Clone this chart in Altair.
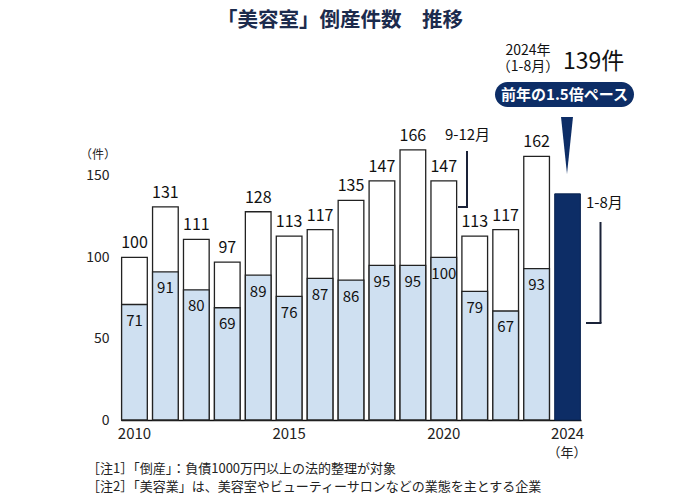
import altair as alt
import pandas as pd

# ---- data ----
years = [2010, 2011, 2012, 2013, 2014, 2015, 2016, 2017, 2018, 2019, 2020, 2021, 2022, 2023, 2024]
totals = [100, 131, 111, 97, 128, 113, 117, 135, 147, 166, 147, 113, 117, 162]   # 2010-2023 full year
jan_aug = [71, 91, 80, 69, 89, 76, 87, 86, 95, 95, 100, 79, 67, 93]             # 2010-2023 Jan-Aug
value_2024 = 139                                                                 # 2024 Jan-Aug
y_ticks = [0, 50, 100, 150]
x_ticks = [2010, 2015, 2020, 2024]

FONT = "Noto Sans CJK JP"
NAVY = "#0d2d66"
LIGHT = "#cfe0f1"
EDGE = "#222222"

# plot-area origin on the page (page margin 8 + padding)
OX, OY = 121, 18
H = 402
df = pd.DataFrame({"year": years[:-1], "total": totals, "lower": jan_aug})
df24 = pd.DataFrame({"year": [years[-1]], "value": [value_2024]})
one = pd.DataFrame({"k": [0]})

xs = alt.Scale(domain=years, paddingInner=0.17, paddingOuter=0.02)
ys = alt.Scale(domain=[0, H / 1.627], nice=False)

xenc = alt.X("year:O", scale=xs, title=None,
             axis=alt.Axis(values=x_ticks, labelAngle=0, ticks=False, domainColor="#111",
                           domainWidth=1.6, labelPadding=6, labelFontSize=15,
                           labelColor="#222", labelFont=FONT))
yaxis = alt.Axis(values=y_ticks, grid=False, ticks=False, domain=False,
                 labelPadding=12, labelFontSize=14, labelColor="#222", labelFont=FONT)

upper = alt.Chart(df).mark_bar(fill="white", stroke=EDGE, strokeWidth=1.3).encode(
    x=xenc, y=alt.Y("total:Q", scale=ys, title=None, axis=yaxis),
)
lower = alt.Chart(df).mark_bar(fill=LIGHT, stroke=EDGE, strokeWidth=1.3).encode(
    x=xenc, y=alt.Y("lower:Q", scale=ys, title=None, axis=yaxis)
)
bar24 = alt.Chart(df24).mark_bar(fill=NAVY, stroke="#0a2450", strokeWidth=1).encode(
    x=xenc, y=alt.Y("value:Q", scale=ys, title=None, axis=yaxis)
)
tot_lbl = alt.Chart(df).mark_text(baseline="alphabetic", dy=-9, fontSize=16, color="#111", font=FONT).encode(
    x=alt.X("year:O", scale=xs), y=alt.Y("total:Q", scale=ys), text="total:Q"
)
low_lbl = alt.Chart(df).mark_text(baseline="alphabetic", dy=21.5, fontSize=15, color="#111", font=FONT).encode(
    x=alt.X("year:O", scale=xs), y=alt.Y("lower:Q", scale=ys), text="lower:Q"
)


def txt(s, px, py, size=15, color="#111", align="center", weight="normal", **kw):
    return alt.Chart(one).mark_text(text=s, fontSize=size, color=color, align=align,
                                    baseline="middle", fontWeight=weight, font=FONT, **kw).encode(
        x=alt.value(px - OX), y=alt.value(py - OY))


def rule(px, py, px2=None, py2=None):
    enc = {"x": alt.value(px - OX), "y": alt.value(py - OY)}
    if px2 is not None:
        enc["x2"] = alt.value(px2 - OX)
    if py2 is not None:
        enc["y2"] = alt.value(py2 - OY)
    return alt.Chart(one).mark_rule(color="#1a2238", strokeWidth=2).encode(**enc)


title = txt("「美容室」倒産件数　推移", 340, 20.5, size=20.5, color="#1c2b4d", weight="bold")
unit = txt("（件）", 98, 155, size=12, color="#222")
nen = txt("（年）", 567, 453, size=13, color="#222")
note1 = txt("［注1］「倒産」：負債1000万円以上の法的整理が対象", 87, 469, size=13, color="#222", align="left")
note2 = txt("［注2］「美容業」は、美容室やビューティーサロンなどの業態を主とする企業", 87, 487, size=13, color="#222", align="left")

lbl_2024 = txt(["2024年", "（1-8月）"], 528, 51, size=14, lineHeight=15.5)
lbl_139 = txt("139件", 563, 62, size=23, align="left")
pill = alt.Chart(one).mark_rect(fill=NAVY, cornerRadius=12.5).encode(
    x=alt.value(495 - OX), x2=alt.value(634 - OX), y=alt.value(82 - OY), y2=alt.value(107 - OY))
pill_txt = txt("前年の1.5倍ペース", 564.5, 94.5, size=15, color="white", weight="bold")
wedge = alt.Chart(one).mark_point(shape="M -0.21 -1 L 0.21 -1 L 0 1 Z", size=3249, filled=True,
                                  fill=NAVY, strokeWidth=0, opacity=1).encode(
    x=alt.value(567 - OX), y=alt.value(145.5 - OY))

lbl_912 = txt("9-12月", 467.5, 135, size=15)
br1v = rule(467, 151, py2=207)
br1h = rule(458, 207, px2=468)
lbl_18 = txt("1-8月", 586, 203, size=15, align="left")
br2v = rule(600.5, 222, py2=323)
br2h = rule(586, 323, px2=601.5)

chart = alt.layer(
    upper, lower, bar24, tot_lbl, low_lbl,
    title, unit, nen, note1, note2,
    lbl_2024, lbl_139, pill, pill_txt, wedge,
    lbl_912, br1v, br1h, lbl_18, br2v, br2h,
).properties(
    width=460, height=H,
    background="white",
    autosize=alt.AutoSizeParams(type="none"),
    padding={"left": OX - 8, "top": OY - 8, "right": 80, "bottom": 76},
).configure_view(strokeWidth=0, stroke="transparent")

chart.save("out.html", embed_options={"renderer": "svg", "actions": False})
